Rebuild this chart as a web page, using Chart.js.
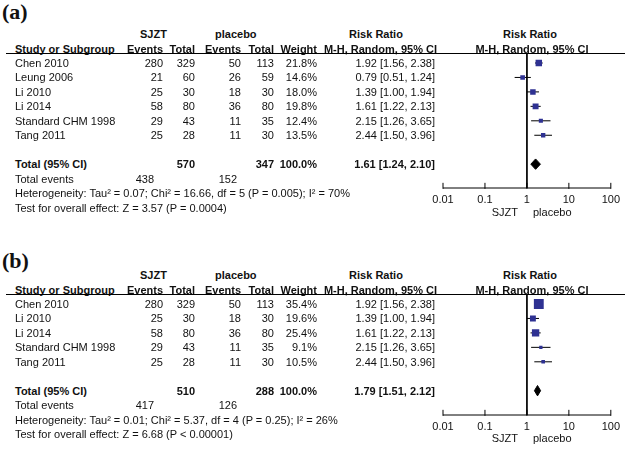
<!DOCTYPE html>
<html>
<head>
<meta charset="utf-8">
<script src="https://cdn.jsdelivr.net/npm/chart.js@4.4.1/dist/chart.umd.min.js"></script>
<style>
  body { margin: 0; background: #fff; }
  #lienzo { position: relative; width: 625px; height: 451px; overflow: hidden;
    font-family: "Liberation Sans", Arial, sans-serif; font-size: 11px; color: #111; }
  .txt { position: absolute; height: 14px; line-height: 14px; white-space: pre; }
  .linea { position: absolute; height: 1px; background: #000; }
  .etiqueta { position: absolute; font-family: "Liberation Serif", "Times New Roman", serif;
    font-weight: bold; font-size: 22px; line-height: 22px; }
  canvas { position: absolute; }
</style>
</head>
<body>
<div id="lienzo">
  <div class="etiqueta" style="left:2px;top:1px">(a)</div>
  <div class="etiqueta" style="left:2px;top:250px">(b)</div>
  <canvas id="grafico-a" width="210" height="175" style="left:415px;top:45px"></canvas>
  <canvas id="grafico-b" width="210" height="162" style="left:415px;top:285px"></canvas>
</div>
<script>
// panel (a)
const studiesA = ["Chen 2010", "Leung 2006", "Li 2010", "Li 2014", "Standard CHM 1998", "Tang 2011"];
const sjztEventsA = [280, 21, 25, 58, 29, 25];
const sjztTotalA = [329, 60, 30, 80, 43, 28];
const placEventsA = [50, 26, 18, 36, 11, 11];
const placTotalA = [113, 59, 30, 80, 35, 30];
const weightA = [21.8, 14.6, 18.0, 19.8, 12.4, 13.5];
const rrA = [1.92, 0.79, 1.39, 1.61, 2.15, 2.44];
const lowA = [1.56, 0.51, 1.00, 1.22, 1.26, 1.50];
const highA = [2.38, 1.24, 1.94, 2.13, 3.65, 3.96];
const pooledA = [1.61, 1.24, 2.10];
const totalsA = [570, 347];
const totalEventsA = [438, 152];
const hetA = "Heterogeneity: Tau² = 0.07; Chi² = 16.66, df = 5 (P = 0.005); I² = 70%";
const testA = "Test for overall effect: Z = 3.57 (P = 0.0004)";

// panel (b)
const studiesB = ["Chen 2010", "Li 2010", "Li 2014", "Standard CHM 1998", "Tang 2011"];
const sjztEventsB = [280, 25, 58, 29, 25];
const sjztTotalB = [329, 30, 80, 43, 28];
const placEventsB = [50, 18, 36, 11, 11];
const placTotalB = [113, 30, 80, 35, 30];
const weightB = [35.4, 19.6, 25.4, 9.1, 10.5];
const rrB = [1.92, 1.39, 1.61, 2.15, 2.44];
const lowB = [1.56, 1.00, 1.22, 1.26, 1.50];
const highB = [2.38, 1.94, 2.13, 3.65, 3.96];
const pooledB = [1.79, 1.51, 2.12];
const totalsB = [510, 288];
const totalEventsB = [417, 126];
const hetB = "Heterogeneity: Tau² = 0.01; Chi² = 5.37, df = 4 (P = 0.25); I² = 26%";
const testB = "Test for overall effect: Z = 6.68 (P < 0.00001)";

const tickValues = [0.01, 0.1, 1, 10, 100];
const tickLabels = ["0.01", "0.1", "1", "10", "100"];

const lienzo = document.querySelector("#lienzo");
const fuente = '"Liberation Sans", Arial, sans-serif';
const azul = "#2e3192";
const paso = 14.45;

const poner = (texto, x, y, alin, negrita) => {
    const d = document.createElement("div");
    d.className = "txt";
    d.textContent = texto;
    d.style.top = (y - 7) + "px";
    if (alin === "right") {
        d.style.left = (x - 300) + "px";
        d.style.width = "300px";
        d.style.textAlign = "right";
    } else if (alin === "center") {
        d.style.left = (x - 150) + "px";
        d.style.width = "300px";
        d.style.textAlign = "center";
    } else {
        d.style.left = x + "px";
    }
    if (negrita) d.style.fontWeight = "bold";
    lienzo.appendChild(d);
};

const raya = (x, y, ancho) => {
    const d = document.createElement("div");
    d.className = "linea";
    d.style.left = x + "px";
    d.style.top = y + "px";
    d.style.width = ancho + "px";
    lienzo.appendChild(d);
};

const fmtRR = (v, lo, hi) => `${v.toFixed(2)} [${lo.toFixed(2)}, ${hi.toFixed(2)}]`;

const tabla = (y0, studies, ev1, tot1, ev2, tot2, weight, rr, low, high, pooled, totals, totEv, het, test) => {
    const yH = y0 - 14;
    poner("SJZT", 140, yH - 15, "left", true);
    poner("placebo", 215, yH - 15, "left", true);
    poner("Risk Ratio", 376, yH - 15, "center", true);
    poner("Risk Ratio", 530, yH - 15, "center", true);
    poner("Study or Subgroup", 15, yH, "left", true);
    poner("Events", 163, yH, "right", true);
    poner("Total", 195, yH, "right", true);
    poner("Events", 241, yH, "right", true);
    poner("Total", 274, yH, "right", true);
    poner("Weight", 317, yH, "right", true);
    poner("M-H, Random, 95% CI", 437, yH, "right", true);
    poner("M-H, Random, 95% CI", 532, yH, "center", true);
    raya(6, yH + 4, 619);

    studies.forEach((s, i) => {
        const y = y0 + i * paso;
        poner(s, 15, y, "left");
        poner(String(ev1[i]), 163, y, "right");
        poner(String(tot1[i]), 195, y, "right");
        poner(String(ev2[i]), 241, y, "right");
        poner(String(tot2[i]), 274, y, "right");
        poner(weight[i].toFixed(1) + "%", 317, y, "right");
        poner(fmtRR(rr[i], low[i], high[i]), 435, y, "right");
    });

    const n = studies.length;
    const yT = y0 + (n + 1) * paso;
    poner("Total (95% CI)", 15, yT, "left", true);
    poner(String(totals[0]), 195, yT, "right", true);
    poner(String(totals[1]), 274, yT, "right", true);
    poner("100.0%", 317, yT, "right", true);
    poner(fmtRR(pooled[0], pooled[1], pooled[2]), 435, yT, "right", true);
    poner("Total events", 15, yT + paso, "left");
    poner(String(totEv[0]), 154, yT + paso, "right");
    poner(String(totEv[1]), 237, yT + paso, "right");
    poner(het, 15, yT + 2 * paso, "left");
    poner(test, 15, yT + 3 * paso, "left");
};

const forest = (canvasId, rr, low, high, weight, pooled, yMin, yMax, padTop) => {
    const n = rr.length;
    const filaTotal = n + 1;
    const datasets = [];
    datasets.push({
        data: rr.map((v, i) => ({ x: v, y: i })),
        pointStyle: "rect",
        pointRadius: weight.map(w => (0.25 * w + 1) / Math.SQRT2),
        backgroundColor: azul,
        borderWidth: 0
    });
    datasets.push({
        data: [
            { x: pooled[1], y: filaTotal },
            { x: pooled[0], y: filaTotal - 0.36 },
            { x: pooled[2], y: filaTotal },
            { x: pooled[0], y: filaTotal + 0.36 },
            { x: pooled[1], y: filaTotal }
        ],
        showLine: true,
        fill: "shape",
        backgroundColor: "#000",
        borderColor: "#000",
        borderWidth: 1,
        pointRadius: 0
    });
    rr.forEach((v, i) => {
        datasets.push({
            data: [{ x: low[i], y: i }, { x: high[i], y: i }],
            showLine: true,
            borderColor: "#000",
            borderWidth: 1,
            pointRadius: 0
        });
    });
    // line of no effect
    datasets.push({
        data: [{ x: 1, y: yMin }, { x: 1, y: yMax }],
        showLine: true,
        borderColor: "#000",
        borderWidth: 1,
        pointRadius: 0
    });
    // axis line and decade tick marks, sitting on the bottom of the plot
    datasets.push({
        data: [{ x: tickValues[0], y: yMax }, { x: tickValues[tickValues.length - 1], y: yMax }],
        showLine: true,
        borderColor: "#000",
        borderWidth: 1,
        pointRadius: 0,
        clip: false
    });
    datasets.push({
        data: tickValues.map(v => ({ x: v, y: yMax - 0.15 })),
        pointStyle: "line",
        rotation: 90,
        pointRadius: 3,
        borderColor: "#000",
        borderWidth: 1,
        clip: false
    });

    new Chart(document.getElementById(canvasId), {
        type: "scatter",
        data: { datasets },
        options: {
            responsive: false,
            animation: false,
            layout: { padding: { left: 28, right: 11, top: padTop, bottom: 2 } },
            plugins: { legend: { display: false }, tooltip: { enabled: false } },
            scales: {
                x: {
                    type: "logarithmic",
                    min: 0.01,
                    max: 100,
                    afterBuildTicks: s => { s.ticks = tickValues.map(v => ({ value: v })); },
                    afterFit: s => { s.height = 30; },
                    ticks: {
                        callback: (v, i) => tickLabels[i],
                        autoSkip: false,
                        maxRotation: 0,
                        padding: 5,
                        color: "#111",
                        font: { family: fuente, size: 11 }
                    },
                    grid: { display: false, drawTicks: false },
                    border: { display: false }
                },
                y: { type: "linear", min: yMin, max: yMax, reverse: true, display: false }
            }
        }
    });
};

// panel (a): first row at y=63, plot from 53 to 188
tabla(63, studiesA, sjztEventsA, sjztTotalA, placEventsA, placTotalA, weightA, rrA, lowA, highA, pooledA, totalsA, totalEventsA, hetA, testA);
forest("grafico-a", rrA, lowA, highA, weightA, pooledA, (53 - 63) / paso, (188 - 63) / paso, 8);
poner("SJZT", 518, 212, "right");
poner("placebo", 533, 212, "left");

// panel (b): first row at y=304, plot from 295 to 415
tabla(304, studiesB, sjztEventsB, sjztTotalB, placEventsB, placTotalB, weightB, rrB, lowB, highB, pooledB, totalsB, totalEventsB, hetB, testB);
forest("grafico-b", rrB, lowB, highB, weightB, pooledB, (295 - 304) / paso, (415 - 304) / paso, 10);
poner("SJZT", 518, 438, "right");
poner("placebo", 533, 438, "left");
</script>
</body>
</html>
